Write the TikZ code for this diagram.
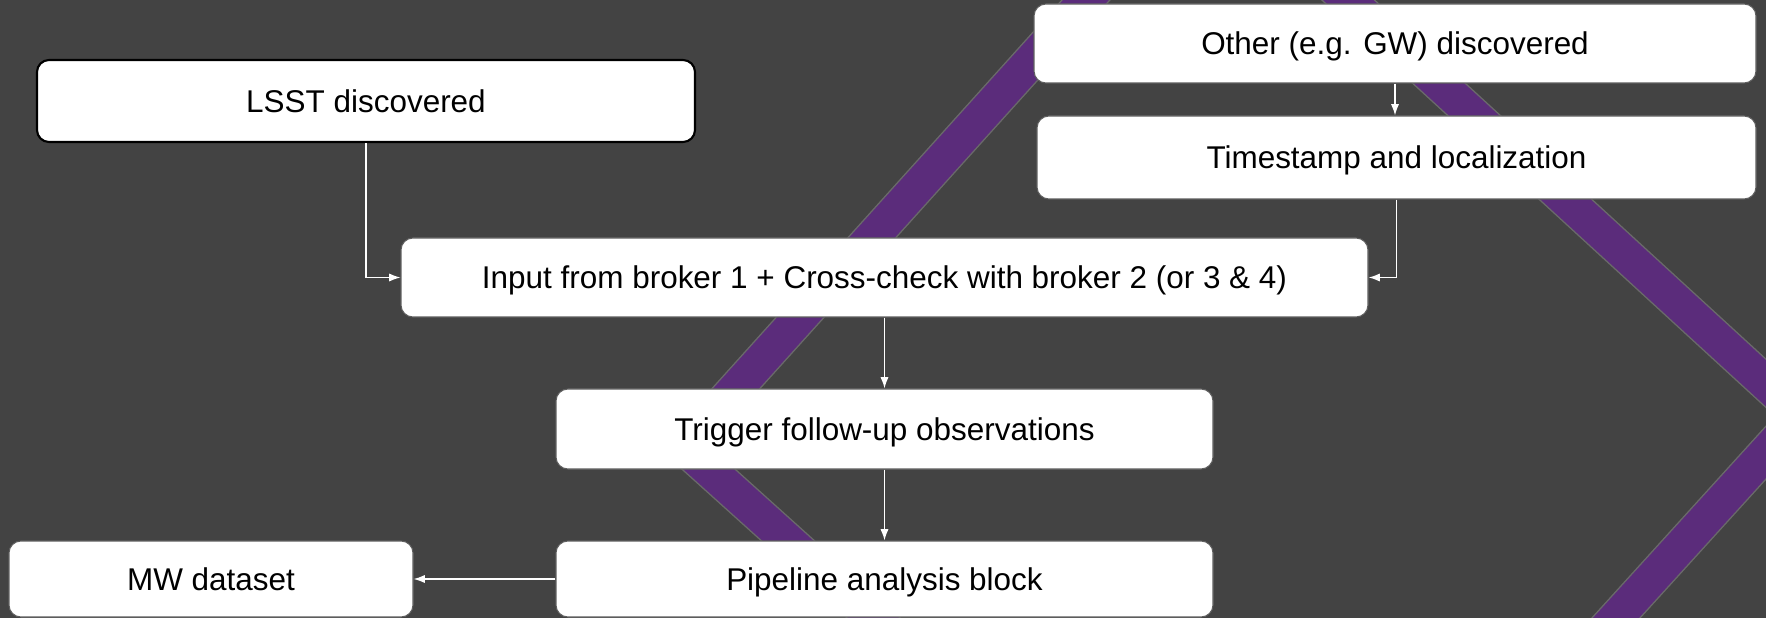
\documentclass[tikz,border=0pt]{standalone}
\usepackage{fontspec}
\setmainfont{Liberation Sans}
\usepackage{tikz}
\usetikzlibrary{arrows.meta}
\definecolor{slidebg}{HTML}{434343}
\definecolor{stripe}{HTML}{5B2C7B}
\definecolor{stripeedge}{HTML}{6A6A6A}
\definecolor{boxedge}{HTML}{5F5F5F}

\begin{document}
\begin{tikzpicture}[
		box/.style={draw=boxedge, line width=0.3pt, fill=white, rounded corners=0.12cm, inner sep=0pt, text height=6.4pt, text depth=0pt, font=\fontsize{8.95}{10}\selectfont},
		flow/.style={draw=white, line width=0.4pt, -{Latex[length=3.2pt,width=2.3pt]}}
	]
	\useasboundingbox (0,0) rectangle (17.66,-6.18);
	\fill[slidebg] (0,0) rectangle (17.66,-6.18);
	\begin{scope}
		\clip (0,0) rectangle (17.66,-6.18);
		\draw[stripeedge, line width=0.4pt, double=stripe, double distance=0.34cm] (12.046,1.317)--(18.003,-4.148)--(12.82,-9.86)--(6.836,-4.467)--cycle;
	\end{scope}
	
	\node[box, draw=black, line width=0.6pt, minimum width=6.58cm, minimum height=0.82cm] (lsst) at (3.66,-1.01) {LSST discovered};
	\node[box, minimum width=7.22cm, minimum height=0.79cm] (other) at (13.95,-0.435) {Other (e.g. GW) discovered};
	\node[box, minimum width=7.19cm, minimum height=0.83cm] (stamp) at (13.965,-1.575) {Timestamp and localization};
	\node[box, minimum width=9.67cm, minimum height=0.79cm] (input) at (8.845,-2.775) {Input from broker 1 + Cross-check with broker 2 (or 3 \& 4)};
	\node[box, minimum width=6.57cm, minimum height=0.80cm] (trigger) at (8.845,-4.29) {Trigger follow-up observations};
	\node[box, minimum width=6.57cm, minimum height=0.76cm] (pipe) at (8.845,-5.79) {Pipeline analysis block};
	\node[box, minimum width=4.04cm, minimum height=0.76cm] (mw) at (2.11,-5.79) {MW dataset};
	
	\draw[flow] (lsst.south) |- (input.west);
	\draw[flow] (other.south) -- (other.south |- stamp.north);
	\draw[flow] (stamp.south) |- (input.east);
	\draw[flow] (input.south) -- (trigger.north);
	\draw[flow] (trigger.south) -- (pipe.north);
	\draw[flow] (pipe.west) -- (mw.east);
\end{tikzpicture}
\end{document}
